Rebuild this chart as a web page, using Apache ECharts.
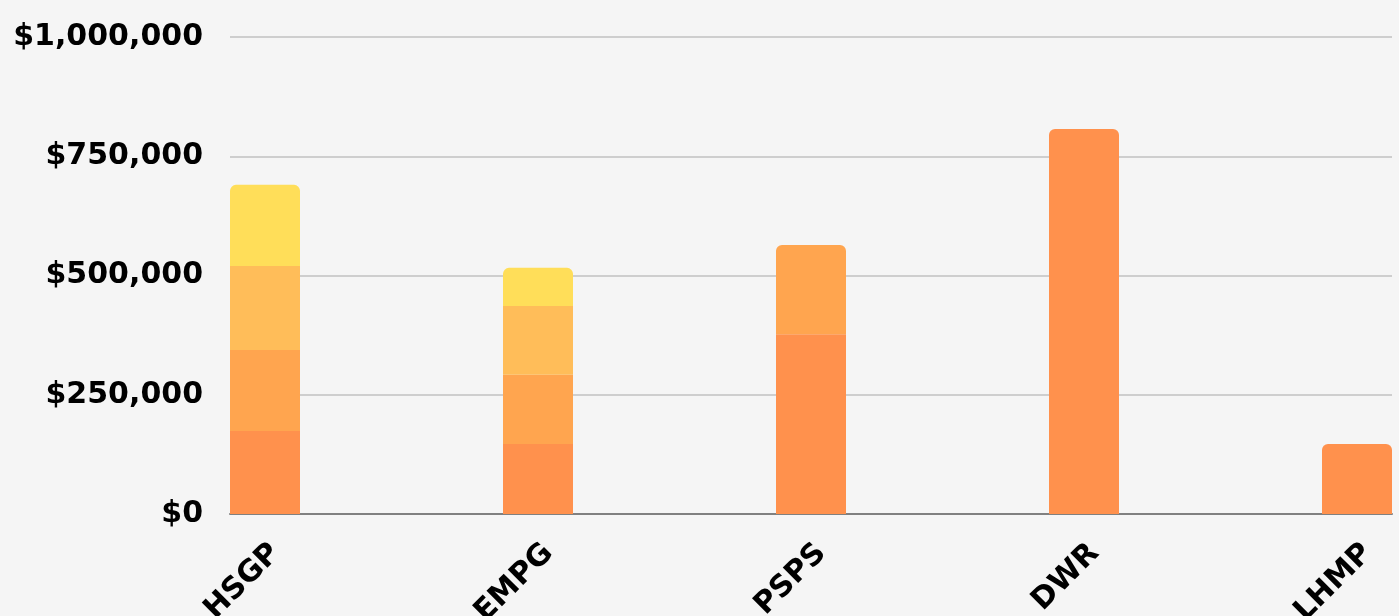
<!DOCTYPE html>
<html>
<head>
<meta charset="utf-8">
<script src="https://cdn.jsdelivr.net/npm/echarts@6/dist/echarts.min.js"></script>
<style>
html,body{margin:0;padding:0;background:#f5f5f5;}
#chart{width:1399px;height:616px;}
</style>
</head>
<body>
<div id="chart"></div>
<script>
const categories = ['HSGP', 'EMPG', 'PSPS', 'DWR', 'LHMP'];
const segment1 = [174000, 147000, 377000, 807000, 147000];
const segment2 = [170000, 145000, 187000, 0, 0];
const segment3 = [176000, 144000, 0, 0, 0];
const segment4 = [170000, 80000, 0, 0, 0];
const yTicks = [0, 250000, 500000, 750000, 1000000];
const colors = ['#FF914D', '#FFA54F', '#FFBD59', '#FFDE59'];

const segments = [segment1, segment2, segment3, segment4];
const topIndex = categories.map((c, i) => {
  let t = 0;
  segments.forEach((s, k) => { if (s[i] > 0) t = k; });
  return t;
});

const series = segments.map((seg, k) => ({
  type: 'bar',
  stack: 'total',
  barWidth: 70,
  xAxisIndex: 1,
  yAxisIndex: 1,
  color: colors[k],
  data: seg.map((v, i) => ({
    value: v,
    itemStyle: { borderRadius: topIndex[i] === k ? [6, 6, 0, 0] : 0 }
  }))
}));

const font = '"DejaVu Sans", sans-serif';
const chart = echarts.init(document.getElementById('chart'));
chart.setOption({
  backgroundColor: '#f5f5f5',
  animation: false,
  grid: [
    { left: 230, right: 7, top: 37, bottom: 102, containLabel: false, outerBoundsMode: 'none' },
    { left: 265, right: 42, top: 37, bottom: 102, containLabel: false, outerBoundsMode: 'none' }
  ],
  xAxis: [
    {
      gridIndex: 0,
      type: 'category',
      data: categories,
      axisLine: { show: true, lineStyle: { color: '#808080', width: 2 } },
      axisTick: { show: false },
      axisLabel: { show: false },
      splitLine: { show: false }
    },
    {
      gridIndex: 1,
      type: 'category',
      data: categories,
      boundaryGap: false,
      axisLine: { show: false },
      axisTick: { show: false },
      splitLine: { show: false },
      axisLabel: {
        interval: 0,
        rotate: 45,
        margin: 24,
        align: 'right',
        verticalAlign: 'top',
        color: '#000',
        fontFamily: font,
        fontWeight: 'bold',
        fontSize: 30
      }
    }
  ],
  yAxis: [
    {
      gridIndex: 0,
      type: 'value',
      min: yTicks[0],
      max: yTicks[yTicks.length - 1],
      interval: 250000,
      axisLine: { show: false },
      axisTick: { show: false },
      splitLine: { lineStyle: { color: '#c0c0c0', width: 1.5 } },
      axisLabel: {
        margin: 27,
        color: '#000',
        fontFamily: font,
        fontWeight: 'bold',
        fontSize: 30,
        formatter: v => '$' + v.toLocaleString('en-US')
      }
    },
    {
      gridIndex: 1,
      type: 'value',
      min: yTicks[0],
      max: yTicks[yTicks.length - 1],
      interval: 250000,
      show: false,
      splitLine: { show: false }
    }
  ],
  series: series
});
</script>
</body>
</html>
